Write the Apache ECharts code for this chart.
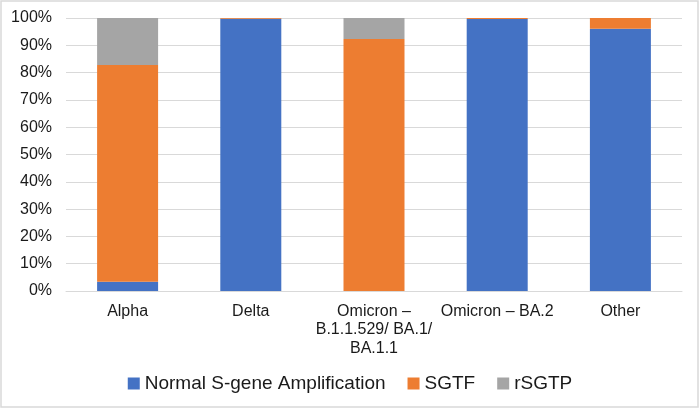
<!DOCTYPE html>
<html>
<head>
<meta charset="utf-8">
<script src="https://cdn.jsdelivr.net/npm/echarts@6/dist/echarts.min.js"></script>
<style>
html,body{margin:0;padding:0;background:#fff;}
#chart{width:700px;height:409px;}
</style>
</head>
<body>
<div id="chart"></div>
<script>
const categories = ['Alpha', 'Delta', 'Omicron –\nB.1.1.529/ BA.1/\nBA.1.1', 'Omicron – BA.2', 'Other'];
const normalAmp = [3.4, 99.7, 0, 99.6, 96.1];
const sgtf = [79.4, 0.3, 92.3, 0.4, 3.9];
const rsgtp = [17.2, 0, 7.7, 0, 0];
const yTicks = [0, 10, 20, 30, 40, 50, 60, 70, 80, 90, 100];

const font = 'Arial, "Liberation Sans", sans-serif';
const chart = echarts.init(document.getElementById('chart'), null, {renderer: 'canvas'});
const mk = (name, data, color) => ({
  name, type: 'bar', stack: 'total', data, barWidth: 61,
  itemStyle: {color}, emphasis: {disabled: true}
});
chart.setOption({
  animation: false,
  textStyle: {fontFamily: font},
  graphic: [{
    type: 'rect', shape: {x: 1, y: 1, width: 697, height: 406},
    style: {fill: 'none', stroke: '#d9d9d9', lineWidth: 1.5}, silent: true
  }],
  grid: {left: 66, right: 18, top: 18, bottom: 118, containLabel: false},
  xAxis: {
    type: 'category', data: categories,
    axisLine: {lineStyle: {color: '#d9d9d9', width: 1}},
    axisTick: {show: false},
    axisLabel: {color: '#1a1a1a', fontSize: 16, fontFamily: font, margin: 11, lineHeight: 18.5, interval: 0}
  },
  yAxis: {
    type: 'value', min: yTicks[0], max: yTicks[yTicks.length - 1], interval: 10,
    axisLine: {show: false}, axisTick: {show: false},
    splitLine: {lineStyle: {color: '#d9d9d9', width: 1}},
    axisLabel: {color: '#1a1a1a', fontSize: 16, fontFamily: font, margin: 14, formatter: v => v + '%'}
  },
  legend: {
    bottom: 11, left: 'center', itemWidth: 12, itemHeight: 12, itemGap: 22,
    icon: 'rect',
    textStyle: {fontSize: 19, color: '#1a1a1a', fontFamily: font},
    data: ['Normal S-gene Amplification', 'SGTF', 'rSGTP']
  },
  series: [
    mk('Normal S-gene Amplification', normalAmp, '#4472C4'),
    mk('SGTF', sgtf, '#ED7D31'),
    mk('rSGTP', rsgtp, '#A5A5A5')
  ]
});
</script>
</body>
</html>
